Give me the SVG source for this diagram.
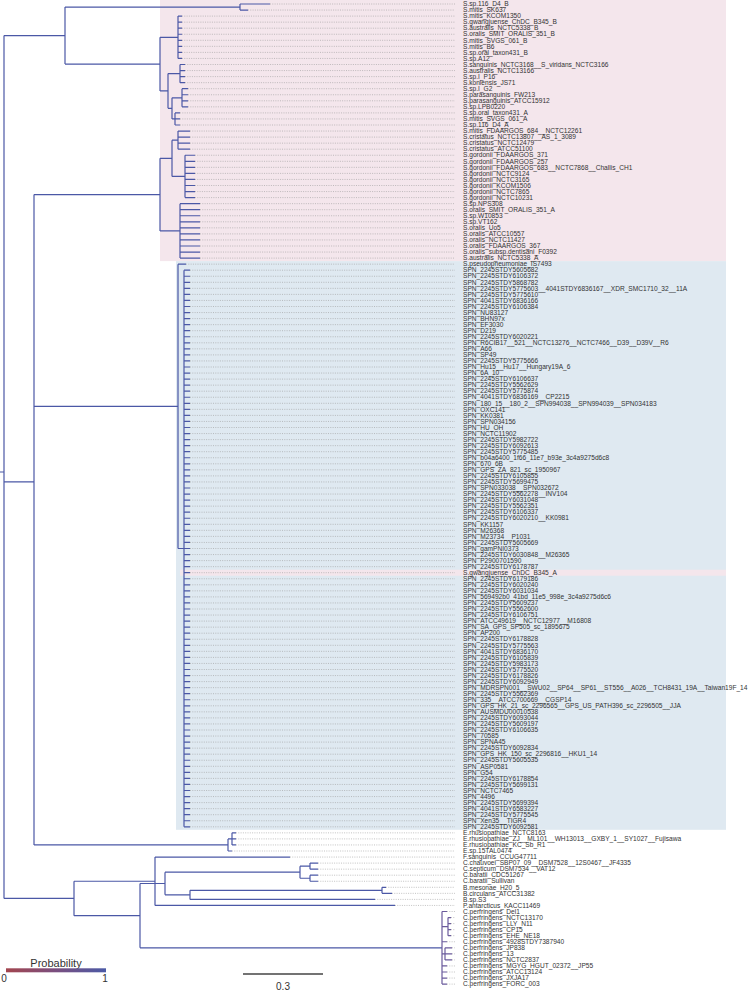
<svg xmlns="http://www.w3.org/2000/svg" width="751" height="991" viewBox="0 0 751 991">
<style>
.lb{font-family:"Liberation Sans",Arial,sans-serif;font-size:6.6px;fill:#333}
.br{fill:none;stroke:#4b58a6;stroke-width:1.2}
.bp{fill:none;stroke:#6a5a9c;stroke-width:1.2}
.ld{fill:none;stroke:#9a9a9a;stroke-width:0.6;stroke-dasharray:1 1.3}
.lg{font-family:"Liberation Sans",Arial,sans-serif;fill:#333}
</style>
<defs>
<linearGradient id="pg" x1="0" x2="1" y1="0" y2="0">
<stop offset="0" stop-color="#a3454e"/><stop offset="0.5" stop-color="#7a4f80"/><stop offset="1" stop-color="#4b5aa6"/>
</linearGradient>
</defs>
<rect width="751" height="991" fill="#fff"/>
<g id="bands">
<rect x="160" y="0" width="566" height="261.1" fill="#f4e6ec"/>
<rect x="176" y="261.1" width="550" height="568.7" fill="#dfe9f1"/>
<rect x="180" y="569.7" width="546" height="6" fill="#f4e6ec"/>
</g>
<g id="connectors">
<path class="ld" d="M270 4H455M248 10.05H455M182 16.1H455M182 22.15H455M182 28.2H455M182 34.25H455M182 40.3H455M182 46.35H455M182 52.4H455M182 58.45H455M185 64.5H455M185 70.55H455M185 76.6H455M185 82.65H455M188 88.7H455M188 94.75H455M188 100.8H455M188 106.85H455M180 112.9H455M180 118.95H455M180 125H455M190 131.05H455M190 137.1H455M190 143.15H455M190 149.2H455M195 155.25H455M195 161.3H455M195 167.35H455M195 173.4H455M195 179.45H455M195 185.5H455M195 191.55H455M195 197.6H455M200 203.65H455M200 209.7H455M200 215.75H455M200 221.8H455M200 227.85H455M200 233.9H455M200 239.95H455M200 246H455M200 252.05H455M200 258.1H455M186 264.15H455"/>
<path class="ld" d="M190 270.2H455M190 276.25H455M190 282.3H455M190 288.35H455M190 294.4H455M190 300.45H455M190 306.5H455M190 312.55H455M190 318.6H455M190 324.65H455M190 330.7H455M190 336.75H455M190 342.8H455M190 348.85H455M190 354.9H455M190 360.95H455M190 367H455M190 373.05H455M190 379.1H455M190 385.15H455M190 391.2H455M190 397.25H455M190 403.3H455M190 409.35H455M190 415.4H455M190 421.45H455M190 427.5H455M190 433.55H455M190 439.6H455M190 445.65H455M190 451.7H455M190 457.75H455M190 463.8H455M190 469.85H455M190 475.9H455M190 481.95H455M190 488H455M190 494.05H455M190 500.1H455M190 506.15H455M190 512.2H455M190 518.25H455M190 524.3H455M190 530.35H455M190 536.4H455M190 542.45H455M190 548.5H455M190 554.55H455M190 560.6H455M190 566.65H455M190 572.7H455M190 578.75H455M190 584.8H455M190 590.85H455M190 596.9H455M190 602.95H455M190 609H455M190 615.05H455M190 621.1H455M190 627.15H455M190 633.2H455M190 639.25H455M190 645.3H455M190 651.35H455M190 657.4H455M190 663.45H455M190 669.5H455M190 675.55H455M190 681.6H455M190 687.65H455M190 693.7H455M190 699.75H455M190 705.8H455M190 711.85H455M190 717.9H455M190 723.95H455M190 730H455M190 736.05H455M190 742.1H455M190 748.15H455M190 754.2H455M190 760.25H455M190 766.3H455M190 772.35H455M190 778.4H455M190 784.45H455M190 790.5H455M190 796.55H455M190 802.6H455M190 808.65H455M190 814.7H455M190 820.75H455M190 826.8H455"/>
<path class="ld" d="M236 832.85H455M236 838.9H455M236 844.95H455M232 851H455M290 857.05H455M318 863.1H455M318 869.15H455M318 875.2H455M318 881.25H455M386 887.3H455M392 893.35H455M375 899.4H455M395 905.45H455M447 911.5H455M451 917.55H455M451 923.6H455M451 929.65H455M451 935.7H455M447 941.75H455M452 947.8H455M452 953.85H455M452 959.9H455M447 965.95H455M447 972H455M447 978.05H455M447 984.1H455"/>
<path class="br" d="M0 472H4M4 35.57V898.46M4 35.57H65M65 7.03V64.12M65 7.03H240M65 64.12H160M240 4V10.05M240 4H270M240 10.05H248M160 37.28V90.97M160 37.28H178M160 90.97H168M178 16.1V58.45M178 16.1H182M178 22.15H182M178 28.2H182M178 34.25H182M178 40.3H182M178 46.35H182M178 52.4H182M178 58.45H182M168 73.58V108.36M168 73.58H180M168 108.36H172M180 64.5V82.65M180 64.5H185M180 70.55H185M180 76.6H185M180 82.65H185M172 97.78V118.95M172 97.78H182M172 118.95H175M182 88.7V106.85M182 88.7H188M182 94.75H188M182 100.8H188M182 106.85H188M175 112.9V125M175 112.9H180M175 118.95H180M175 125H180"/>
<path class="br" d="M4 481.95H34M34 194.58V844.95M34 194.58H160M34 406.33H178M34 844.95H228M160 158.28V230.88M160 158.28H172M160 230.88H180M172 140.13V176.43M172 140.13H178M172 176.43H185M178 131.05V149.2M178 131.05H190M178 137.1H190M178 143.15H190M178 149.2H190M185 155.25V197.6M185 155.25H195M185 161.3H195M185 167.35H195M185 173.4H195M185 179.45H195M185 185.5H195M185 191.55H195M185 197.6H195M180 203.65V258.1M180 203.65H200M180 209.7H200M180 215.75H200M180 221.8H200M180 227.85H200M180 233.9H200M180 239.95H200M180 246H200M180 252.05H200M180 258.1H200"/>
<path class="br" d="M178 264.15V548.5M178 264.15H186M178 548.5H184M184 270.2V826.8M228 838.9V851M228 838.9H232M228 851H232M232 832.85V844.95M232 832.85H236M232 838.9H236M232 844.95H236"/>
<path class="br" d="M4 898.46H74M74 881.25V915.66M74 881.25H155M74 915.66H140M155 857.05V905.45M155 857.05H290M155 905.45H395M140 883.52V947.8M140 883.52H165M140 947.8H442M165 872.18V894.86M165 872.18H300M165 894.86H190M300 866.13V878.23M300 866.13H310M300 878.23H310M310 863.1V869.15M310 863.1H318M310 869.15H318M310 875.2V881.25M310 875.2H318M310 881.25H318M190 890.33V899.4M190 890.33H382M190 899.4H375M382 887.3V893.35M382 887.3H386M382 893.35H392"/>
<path class="bp" d="M442 911.5V984.1M442 911.5H447M442 926.63H448M448 917.55V935.7M448 917.55H451M448 923.6H451M448 929.65H451M448 935.7H451M442 941.75H447M442 953.85H445M445 947.8V959.9M445 947.8H452M445 953.85H452M445 959.9H452M442 965.95H447M442 972H447M442 978.05H447M442 984.1H447"/>
</g>
<g id="spn-tips">
<path class="br" d="M184 270.2H190M184 276.25H190M184 282.3H190M184 288.35H190M184 294.4H190M184 300.45H190M184 306.5H190M184 312.55H190M184 318.6H190M184 324.65H190M184 330.7H190M184 336.75H190M184 342.8H190M184 348.85H190M184 354.9H190M184 360.95H190M184 367H190M184 373.05H190M184 379.1H190M184 385.15H190M184 391.2H190M184 397.25H190M184 403.3H190M184 409.35H190M184 415.4H190M184 421.45H190M184 427.5H190M184 433.55H190M184 439.6H190M184 445.65H190M184 451.7H190M184 457.75H190M184 463.8H190M184 469.85H190M184 475.9H190M184 481.95H190M184 488H190M184 494.05H190M184 500.1H190M184 506.15H190M184 512.2H190M184 518.25H190M184 524.3H190M184 530.35H190M184 536.4H190M184 542.45H190M184 548.5H190M184 554.55H190M184 560.6H190M184 566.65H190M184 572.7H190M184 578.75H190M184 584.8H190M184 590.85H190M184 596.9H190M184 602.95H190M184 609H190M184 615.05H190M184 621.1H190M184 627.15H190M184 633.2H190M184 639.25H190M184 645.3H190M184 651.35H190M184 657.4H190M184 663.45H190M184 669.5H190M184 675.55H190M184 681.6H190M184 687.65H190M184 693.7H190M184 699.75H190M184 705.8H190M184 711.85H190M184 717.9H190M184 723.95H190M184 730H190M184 736.05H190M184 742.1H190M184 748.15H190M184 754.2H190M184 760.25H190M184 766.3H190M184 772.35H190M184 778.4H190M184 784.45H190M184 790.5H190M184 796.55H190M184 802.6H190M184 808.65H190M184 814.7H190M184 820.75H190M184 826.8H190"/>
</g>
<g id="labels" class="lb">
<text x="463" y="6.2">S.sp.116_D4_B</text>
<text x="463" y="12.25">S.mitis_SK637</text>
<text x="463" y="18.3">S.mitis_KCOM1350</text>
<text x="463" y="24.35">S.gwangjuense_ChDC_B345_B</text>
<text x="463" y="30.4">S.australis_NCTC5338_B</text>
<text x="463" y="36.45">S.oralis_SMIT_ORALIS_351_B</text>
<text x="463" y="42.5">S.mitis_SVGS_061_B</text>
<text x="463" y="48.55">S.mitis_B6</text>
<text x="463" y="54.6">S.sp.oral_taxon431_B</text>
<text x="463" y="60.65">S.sp.A12</text>
<text x="463" y="66.7">S.sanguinis_NCTC3168__S_viridans_NCTC3166</text>
<text x="463" y="72.75">S.australis_NCTC13166</text>
<text x="463" y="78.8">S.sp.I_P16</text>
<text x="463" y="84.85">S.koniensis_JS71</text>
<text x="463" y="90.9">S.sp.I_G2</text>
<text x="463" y="96.95">S.parasanguinis_FW213</text>
<text x="463" y="103">S.parasanguinis_ATCC15912</text>
<text x="463" y="109.05">S.sp.LPB0220</text>
<text x="463" y="115.1">S.sp.oral_taxon431_A</text>
<text x="463" y="121.15">S.mitis_SVGS_061_A</text>
<text x="463" y="127.2">S.sp.116_D4_A</text>
<text x="463" y="133.25">S.mitis_FDAARGOS_684__NCTC12261</text>
<text x="463" y="139.3">S.cristatus_NCTC13807__AS_1_3089</text>
<text x="463" y="145.35">S.cristatus_NCTC12479</text>
<text x="463" y="151.4">S.cristatus_ATCC51100</text>
<text x="463" y="157.45">S.gordonii_FDAARGOS_371</text>
<text x="463" y="163.5">S.gordonii_FDAARGOS_257</text>
<text x="463" y="169.55">S.gordonii_FDAARGOS_683__NCTC7868__Challis_CH1</text>
<text x="463" y="175.6">S.gordonii_NCTC9124</text>
<text x="463" y="181.65">S.gordonii_NCTC3165</text>
<text x="463" y="187.7">S.gordonii_KCOM1506</text>
<text x="463" y="193.75">S.gordonii_NCTC7865</text>
<text x="463" y="199.8">S.gordonii_NCTC10231</text>
<text x="463" y="205.85">S.sp.NPS308</text>
<text x="463" y="211.9">S.oralis_SMIT_ORALIS_351_A</text>
<text x="463" y="217.95">S.sp.W10853</text>
<text x="463" y="224">S.sp.VT162</text>
<text x="463" y="230.05">S.oralis_Uo5</text>
<text x="463" y="236.1">S.oralis_ATCC10557</text>
<text x="463" y="242.15">S.oralis_NCTC11427</text>
<text x="463" y="248.2">S.oralis_FDAARGOS_367</text>
<text x="463" y="254.25">S.oralis_subsp.dentisani_F0392</text>
<text x="463" y="260.3">S.australis_NCTC5338_A</text>
<text x="463" y="266.35">S.pseudopneumoniae_IS7493</text>
<text x="463" y="272.4">SPN_2245STDY5605682</text>
<text x="463" y="278.45">SPN_2245STDY6106372</text>
<text x="463" y="284.5">SPN_2245STDY5868782</text>
<text x="463" y="290.55">SPN_2245STDY5775603__4041STDY6836167__XDR_SMC1710_32__11A</text>
<text x="463" y="296.6">SPN_2245STDY5775610</text>
<text x="463" y="302.65">SPN_4041STDY6836166</text>
<text x="463" y="308.7">SPN_2245STDY6106384</text>
<text x="463" y="314.75">SPN_NU83127</text>
<text x="463" y="320.8">SPN_BHN97x</text>
<text x="463" y="326.85">SPN_EF3030</text>
<text x="463" y="332.9">SPN_D219</text>
<text x="463" y="338.95">SPN_2245STDY6020221</text>
<text x="463" y="345">SPN_R6CIB17__521__NCTC13276__NCTC7466__D39__D39V__R6</text>
<text x="463" y="351.05">SPN_A66</text>
<text x="463" y="357.1">SPN_SP49</text>
<text x="463" y="363.15">SPN_2245STDY5775666</text>
<text x="463" y="369.2">SPN_Hu15__Hu17__Hungary19A_6</text>
<text x="463" y="375.25">SPN_6A_10</text>
<text x="463" y="381.3">SPN_2245STDY6106637</text>
<text x="463" y="387.35">SPN_2245STDY5562629</text>
<text x="463" y="393.4">SPN_2245STDY5775874</text>
<text x="463" y="399.45">SPN_4041STDY6836169__CP2215</text>
<text x="463" y="405.5">SPN_180_15__180_2__SPN994038__SPN994039__SPN034183</text>
<text x="463" y="411.55">SPN_OXC141</text>
<text x="463" y="417.6">SPN_KK0381</text>
<text x="463" y="423.65">SPN_SPN034156</text>
<text x="463" y="429.7">SPN_HU_OH</text>
<text x="463" y="435.75">SPN_NCTC11902</text>
<text x="463" y="441.8">SPN_2245STDY5982722</text>
<text x="463" y="447.85">SPN_2245STDY6092613</text>
<text x="463" y="453.9">SPN_2245STDY5775485</text>
<text x="463" y="459.95">SPN_b04a6400_1f66_11e7_b93e_3c4a9275d6c8</text>
<text x="463" y="466">SPN_670_6B</text>
<text x="463" y="472.05">SPN_GPS_ZA_821_sc_1950967</text>
<text x="463" y="478.1">SPN_2245STDY6105855</text>
<text x="463" y="484.15">SPN_2245STDY5699475</text>
<text x="463" y="490.2">SPN_SPN033038__SPN032672</text>
<text x="463" y="496.25">SPN_2245STDY5562278__INV104</text>
<text x="463" y="502.3">SPN_2245STDY6031048</text>
<text x="463" y="508.35">SPN_2245STDY5562351</text>
<text x="463" y="514.4">SPN_2245STDY6106337</text>
<text x="463" y="520.45">SPN_2245STDY6020210__KK0981</text>
<text x="463" y="526.5">SPN_KK1157</text>
<text x="463" y="532.55">SPN_M26368</text>
<text x="463" y="538.6">SPN_M23734__P1031</text>
<text x="463" y="544.65">SPN_2245STDY5605669</text>
<text x="463" y="550.7">SPN_gamPNI0373</text>
<text x="463" y="556.75">SPN_2245STDY6030848__M26365</text>
<text x="463" y="562.8">SPN_P2900701590</text>
<text x="463" y="568.85">SPN_2245STDY6178787</text>
<text x="463" y="574.9">S.gwangjuense_ChDC_B345_A</text>
<text x="463" y="580.95">SPN_2245STDY6179186</text>
<text x="463" y="587">SPN_2245STDY6020240</text>
<text x="463" y="593.05">SPN_2245STDY6031034</text>
<text x="463" y="599.1">SPN_569492b0_41bd_11e5_998e_3c4a9275d6c6</text>
<text x="463" y="605.15">SPN_2245STDY5609237</text>
<text x="463" y="611.2">SPN_2245STDY5562600</text>
<text x="463" y="617.25">SPN_2245STDY6106751</text>
<text x="463" y="623.3">SPN_ATCC49619__NCTC12977__M16808</text>
<text x="463" y="629.35">SPN_SA_GPS_SP505_sc_1895675</text>
<text x="463" y="635.4">SPN_AP200</text>
<text x="463" y="641.45">SPN_2245STDY6178828</text>
<text x="463" y="647.5">SPN_2245STDY5775563</text>
<text x="463" y="653.55">SPN_4041STDY6836170</text>
<text x="463" y="659.6">SPN_2245STDY6105839</text>
<text x="463" y="665.65">SPN_2245STDY5983173</text>
<text x="463" y="671.7">SPN_2245STDY5775520</text>
<text x="463" y="677.75">SPN_2245STDY6178826</text>
<text x="463" y="683.8">SPN_2245STDY6092949</text>
<text x="463" y="689.85">SPN_MDRSPN001__SWU02__SP64__SP61__ST556__A026__TCH8431_19A__Taiwan19F_14</text>
<text x="463" y="695.9">SPN_2245STDY5562369</text>
<text x="463" y="701.95">SPN_335__ATCC700669__CGSP14</text>
<text x="463" y="708">SPN_GPS_HK_21_sc_2296565__GPS_US_PATH396_sc_2296505__JJA</text>
<text x="463" y="714.05">SPN_AUSMDU00010538</text>
<text x="463" y="720.1">SPN_2245STDY6093044</text>
<text x="463" y="726.15">SPN_2245STDY5609197</text>
<text x="463" y="732.2">SPN_2245STDY6106635</text>
<text x="463" y="738.25">SPN_70585</text>
<text x="463" y="744.3">SPN_SPNA45</text>
<text x="463" y="750.35">SPN_2245STDY6092834</text>
<text x="463" y="756.4">SPN_GPS_HK_150_sc_2296816__HKU1_14</text>
<text x="463" y="762.45">SPN_2245STDY5605535</text>
<text x="463" y="768.5">SPN_ASP0581</text>
<text x="463" y="774.55">SPN_G54</text>
<text x="463" y="780.6">SPN_2245STDY6178854</text>
<text x="463" y="786.65">SPN_2245STDY5699131</text>
<text x="463" y="792.7">SPN_NCTC7465</text>
<text x="463" y="798.75">SPN_4496</text>
<text x="463" y="804.8">SPN_2245STDY5699394</text>
<text x="463" y="810.85">SPN_4041STDY6583227</text>
<text x="463" y="816.9">SPN_2245STDY5775545</text>
<text x="463" y="822.95">SPN_Xen35__TIGR4</text>
<text x="463" y="829">SPN_2245STDY6092581</text>
<text x="463" y="835.05">E.rhusiopathiae_NCTC8163</text>
<text x="463" y="841.1">E.rhusiopathiae_ZJ__ML101__WH13013__GXBY_1__SY1027__Fujisawa</text>
<text x="463" y="847.15">E.rhusiopathiae_KC_Sb_R1</text>
<text x="463" y="853.2">E.sp.15TAL0474</text>
<text x="463" y="859.25">F.sanguinis_CCUG47711</text>
<text x="463" y="865.3">C.chauvoei_SBP07_09__DSM7528__12S0467__JF4335</text>
<text x="463" y="871.35">C.septicum_DSM7534__VAT12</text>
<text x="463" y="877.4">C.baratii_CDC51267</text>
<text x="463" y="883.45">C.baratii_Sullivan</text>
<text x="463" y="889.5">B.mesonae_H20_5</text>
<text x="463" y="895.55">B.circulans_ATCC31382</text>
<text x="463" y="901.6">B.sp.S3</text>
<text x="463" y="907.65">P.antarcticus_KACC11469</text>
<text x="463" y="913.7">C.perfringens_Del1</text>
<text x="463" y="919.75">C.perfringens_NCTC13170</text>
<text x="463" y="925.8">C.perfringens_LLY_N11</text>
<text x="463" y="931.85">C.perfringens_CP15</text>
<text x="463" y="937.9">C.perfringens_EHE_NE18</text>
<text x="463" y="943.95">C.perfringens_4928STDY7387940</text>
<text x="463" y="950">C.perfringens_JP838</text>
<text x="463" y="956.05">C.perfringens_13</text>
<text x="463" y="962.1">C.perfringens_NCTC2837</text>
<text x="463" y="968.15">C.perfringens_MGYG_HGUT_02372__JP55</text>
<text x="463" y="974.2">C.perfringens_ATCC13124</text>
<text x="463" y="980.25">C.perfringens_JXJA17</text>
<text x="463" y="986.3">C.perfringens_FORC_003</text>
</g>
<g id="legend">
<text class="lg" x="56" y="966.5" font-size="11" text-anchor="middle">Probability</text>
<rect x="6" y="968.3" width="100" height="4" fill="url(#pg)"/>
<text class="lg" x="4" y="982" font-size="10" text-anchor="middle">0</text>
<text class="lg" x="105" y="982" font-size="10" text-anchor="middle">1</text>
</g>
<g id="scale">
<path d="M243 974H323" stroke="#444" stroke-width="1.4"/>
<text class="lg" x="283" y="989.6" font-size="10" text-anchor="middle">0.3</text>
</g>
</svg>
